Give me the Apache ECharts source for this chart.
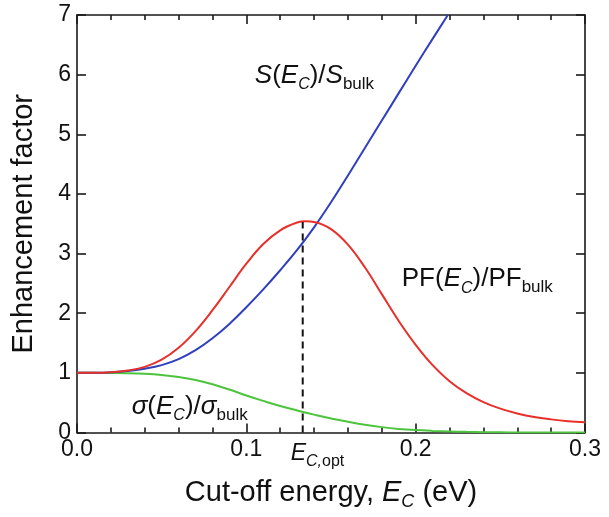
<!DOCTYPE html>
<html>
<head>
<meta charset="utf-8">
<script src="https://cdn.jsdelivr.net/npm/echarts@6/dist/echarts.min.js"></script>
<style>
html,body{margin:0;padding:0;background:#fff;}
#main{width:609px;height:517px;}
</style>
</head>
<body>
<div id="main"></div>
<script>
// ---- data ----
const energyPF = [0,0.01,0.02,0.03,0.04,0.05,0.06,0.07,0.08,0.09,0.10,0.11,0.12,0.13,0.135,0.14,0.15,0.16,0.17,0.18,0.19,0.20,0.21,0.22,0.23,0.24,0.25,0.26,0.27,0.28,0.29,0.30];
const pfRatio  = [1.00,1.00,1.01,1.04,1.10,1.22,1.42,1.70,2.05,2.44,2.83,3.16,3.39,3.52,3.54,3.53,3.41,3.15,2.77,2.32,1.87,1.47,1.13,0.86,0.66,0.51,0.40,0.32,0.26,0.22,0.19,0.17];

const energyS = [0,0.01,0.02,0.03,0.04,0.05,0.06,0.07,0.08,0.09,0.10,0.11,0.12,0.13,0.14,0.15,0.16,0.17,0.18,0.19,0.20,0.21,0.219];
const sRatio  = [1.00,1.00,1.01,1.03,1.07,1.13,1.23,1.38,1.58,1.82,2.10,2.40,2.72,3.06,3.44,3.86,4.31,4.77,5.23,5.69,6.15,6.60,7.00];

const energySigma = [0,0.01,0.02,0.03,0.04,0.05,0.06,0.07,0.08,0.09,0.10,0.11,0.12,0.13,0.14,0.15,0.16,0.17,0.18,0.19,0.20,0.21,0.22,0.23,0.24,0.25,0.26,0.28,0.30];
const sigmaRatio  = [1.00,1.00,0.998,0.995,0.985,0.965,0.93,0.88,0.81,0.72,0.62,0.53,0.445,0.37,0.30,0.235,0.18,0.13,0.09,0.06,0.04,0.027,0.018,0.011,0.006,0.003,0.001,0,0];

const EC_OPT = 0.1333;
const PF_PEAK = 3.53;

const xTicks = [0.0, 0.1, 0.2, 0.3];
const yTicks = [0,1,2,3,4,5,6,7];

// label anchor points (data space)
const sLabelAt = [0.105, 5.98];
const pfLabelAt = [0.1918, 2.57];
const sigmaLabelAt = [0.0323, 0.43];

// ---- chart ----
const FONT = "'Liberation Sans', Arial, sans-serif";
const zip = (xs, ys) => xs.map((x, i) => [x, ys[i]]);

const richBase = {
  m:   { fontFamily: FONT, fontSize: 26, color: '#111', lineHeight: 34, verticalAlign: 'middle' },
  i:   { fontFamily: FONT, fontSize: 26, fontStyle: 'italic', color: '#111', lineHeight: 34, verticalAlign: 'middle' },
  si:  { fontFamily: FONT, fontSize: 16, fontStyle: 'italic', color: '#111', lineHeight: 12, verticalAlign: 'bottom' },
  s:   { fontFamily: FONT, fontSize: 17, color: '#111', lineHeight: 12, verticalAlign: 'bottom' }
};

function annot(coord, text) {
  return {
    symbol: 'circle', symbolSize: 0, silent: true,
    data: [{ coord: coord, value: 0 }],
    label: { show: true, position: 'right', distance: 0, formatter: text, rich: richBase, color: '#111' }
  };
}

const axisLineStyle = { color: '#1a1a1a', width: 1.6 };

const chart = echarts.init(document.getElementById('main'), null, { renderer: 'canvas' });
chart.setOption({
  animation: false,
  backgroundColor: '#fff',
  grid: { left: 77, right: 24, top: 15, bottom: 84.5, containLabel: false },
  xAxis: [
    {
      type: 'value', min: xTicks[0], max: xTicks[xTicks.length - 1], interval: 0.1,
      position: 'bottom',
      axisLine: { show: true, onZero: false, lineStyle: axisLineStyle },
      axisTick: { show: true, inside: true, length: 9, lineStyle: axisLineStyle },
      minorTick: { show: true, splitNumber: 5, length: 5, lineStyle: axisLineStyle },
      splitLine: { show: false },
      axisLabel: { fontFamily: FONT, fontSize: 23, color: '#111', margin: 6, formatter: v => v.toFixed(1) },
      name: '{m|Cut-off energy, }{i|E}{si|C}{m| (eV)}',
      nameLocation: 'middle', nameGap: 42,
      nameTextStyle: {
        rich: {
          m:  { fontFamily: FONT, fontSize: 29, color: '#111', lineHeight: 36, verticalAlign: 'middle' },
          i:  { fontFamily: FONT, fontSize: 29, fontStyle: 'italic', color: '#111', lineHeight: 36, verticalAlign: 'middle' },
          si: { fontFamily: FONT, fontSize: 18, fontStyle: 'italic', color: '#111', lineHeight: 12, verticalAlign: 'bottom' }
        }
      }
    },
    {
      type: 'value', min: xTicks[0], max: xTicks[xTicks.length - 1], interval: 0.1,
      position: 'top',
      axisLine: { show: true, onZero: false, lineStyle: axisLineStyle },
      axisTick: { show: true, inside: true, length: 9, lineStyle: axisLineStyle },
      minorTick: { show: true, splitNumber: 5, length: 5, lineStyle: axisLineStyle },
      splitLine: { show: false },
      axisLabel: { show: false }
    }
  ],
  yAxis: [
    {
      type: 'value', min: yTicks[0], max: yTicks[yTicks.length - 1], interval: 1,
      position: 'left',
      axisLine: { show: true, onZero: false, lineStyle: axisLineStyle },
      axisTick: { show: true, inside: true, length: 9, lineStyle: axisLineStyle },
      splitLine: { show: false },
      axisLabel: { fontFamily: FONT, fontSize: 23, color: '#111', margin: 6 },
      name: 'Enhancement factor',
      nameLocation: 'middle', nameGap: 39,
      nameTextStyle: { fontFamily: FONT, fontSize: 29, color: '#111' }
    },
    {
      type: 'value', min: yTicks[0], max: yTicks[yTicks.length - 1], interval: 1,
      position: 'right',
      axisLine: { show: true, onZero: false, lineStyle: axisLineStyle },
      axisTick: { show: true, inside: true, length: 9, lineStyle: axisLineStyle },
      splitLine: { show: false },
      axisLabel: { show: false }
    }
  ],
  series: [
    {
      name: 'sigma', type: 'line', xAxisIndex: 0, yAxisIndex: 0,
      data: zip(energySigma, sigmaRatio), showSymbol: false, smooth: 0.4,
      lineStyle: { color: '#4cc43c', width: 2 }, itemStyle: { color: '#4cc43c' },
      markPoint: annot(sigmaLabelAt, '{i|σ}{m|(}{i|E}{si|C}{m|)/}{i|σ}{s|bulk}')
    },
    {
      name: 'S', type: 'line', xAxisIndex: 0, yAxisIndex: 0,
      data: zip(energyS, sRatio), showSymbol: false, smooth: 0.4,
      lineStyle: { color: '#2f3fbf', width: 2 }, itemStyle: { color: '#2f3fbf' },
      markPoint: annot(sLabelAt, '{i|S}{m|(}{i|E}{si|C}{m|)/}{i|S}{s|bulk}')
    },
    {
      name: 'PF', type: 'line', xAxisIndex: 0, yAxisIndex: 0,
      data: zip(energyPF, pfRatio), showSymbol: false, smooth: 0.4,
      lineStyle: { color: '#e8302a', width: 2 }, itemStyle: { color: '#e8302a' },
      markPoint: annot(pfLabelAt, '{m|PF(}{i|E}{si|C}{m|)/PF}{s|bulk}')
    },
    {
      name: 'opt', type: 'line', xAxisIndex: 0, yAxisIndex: 0,
      data: [[EC_OPT, 0], [EC_OPT, PF_PEAK]], showSymbol: false,
      lineStyle: { color: '#111', width: 2, type: [7, 5] }, itemStyle: { color: '#111' },
      markPoint: {
        symbol: 'circle', symbolSize: 0, silent: true,
        data: [{ coord: [EC_OPT, 0], value: 0 }],
        label: {
          show: true, position: 'bottom', distance: 5, align: 'left', offset: [-12, 0],
          formatter: '{i|E}{si|C,}{s|opt}',
          rich: {
            i:  { fontFamily: FONT, fontSize: 23, fontStyle: 'italic', color: '#111', lineHeight: 32, verticalAlign: 'middle' },
            si: { fontFamily: FONT, fontSize: 16, fontStyle: 'italic', color: '#111', lineHeight: 12, verticalAlign: 'bottom' },
            s:  { fontFamily: FONT, fontSize: 16, color: '#111', lineHeight: 12, verticalAlign: 'bottom' }
          }
        }
      }
    }
  ]
});
</script>
</body>
</html>
